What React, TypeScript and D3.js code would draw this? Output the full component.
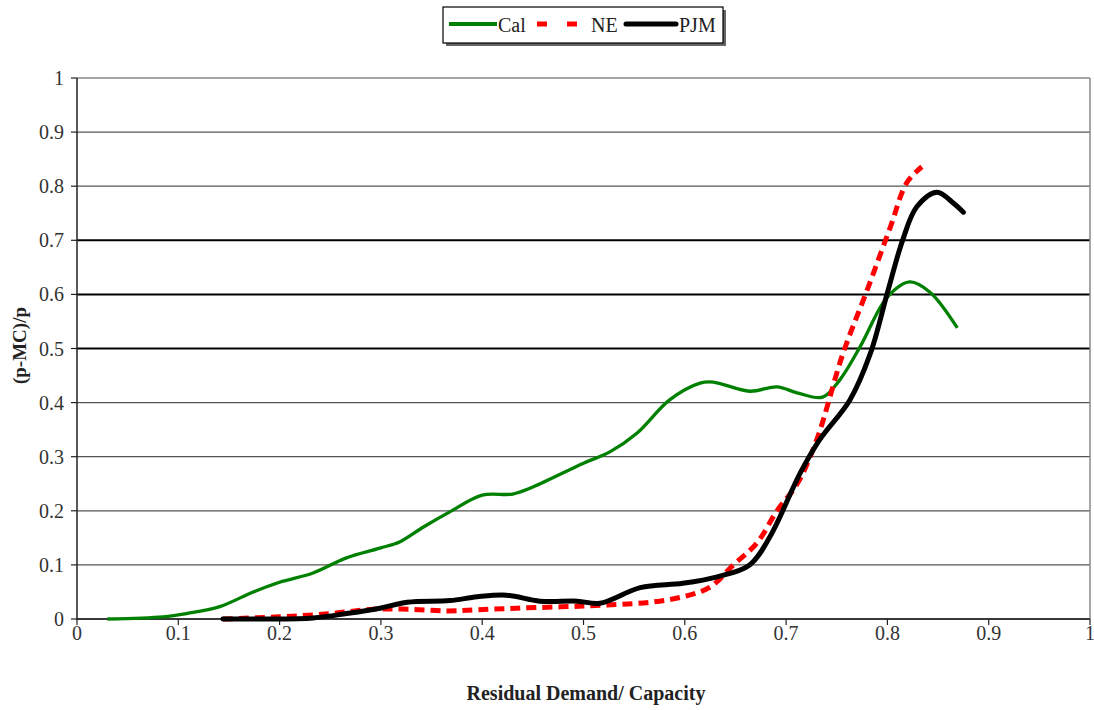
import React from "react";
import * as d3 from "d3";

const calX = [0.03,0.085,0.108,0.141,0.174,0.20,0.233,0.266,0.299,0.319,0.342,0.368,0.40,0.43,0.45,0.50,0.526,0.553,0.585,0.615,0.628,0.664,0.691,0.711,0.736,0.753,0.773,0.80,0.822,0.842,0.869];
const calY = [0,0.004,0.01,0.023,0.05,0.068,0.085,0.113,0.131,0.143,0.17,0.198,0.229,0.231,0.244,0.288,0.309,0.344,0.405,0.436,0.438,0.421,0.429,0.418,0.41,0.442,0.503,0.595,0.623,0.604,0.538];

const neX = [0.144,0.20,0.25,0.292,0.329,0.365,0.395,0.434,0.50,0.566,0.598,0.625,0.648,0.671,0.691,0.711,0.73,0.756,0.78,0.803,0.819,0.834];
const neY = [0,0.004,0.01,0.018,0.018,0.015,0.017,0.02,0.024,0.031,0.041,0.059,0.10,0.14,0.20,0.25,0.33,0.49,0.608,0.725,0.806,0.836];

const pjmX = [0.144,0.184,0.233,0.266,0.299,0.326,0.368,0.395,0.424,0.457,0.494,0.516,0.556,0.598,0.632,0.664,0.684,0.714,0.733,0.763,0.783,0.80,0.815,0.829,0.849,0.865,0.875];
const pjmY = [0,0,0.002,0.01,0.02,0.031,0.034,0.041,0.044,0.033,0.033,0.029,0.058,0.066,0.078,0.10,0.152,0.27,0.331,0.405,0.49,0.603,0.70,0.762,0.789,0.769,0.752];

const xTicks = [0,0.1,0.2,0.3,0.4,0.5,0.6,0.7,0.8,0.9,1];
const yTicks = [0,0.1,0.2,0.3,0.4,0.5,0.6,0.7,0.8,0.9,1];
const seriesNames = ["Cal", "NE", "PJM"];

export default function App() {
  const W = 1094, H = 710;
  const x = d3.scaleLinear().domain([0, 1]).range([77, 1090]);
  const y = d3.scaleLinear().domain([0, 1]).range([619, 78]);
  const line = d3.line<[number, number]>().x(d => x(d[0])).y(d => y(d[1])).curve(d3.curveCatmullRom.alpha(0.5));
  const zip = (a: number[], b: number[]) => a.map((v, i) => [v, b[i]] as [number, number]);
  const font = "'Liberation Serif', 'Times New Roman', serif";
  const dark = [0.5, 0.6, 0.7];
  return (
    <svg width={W} height={H} style={{ position: "absolute", left: 0, top: 0, background: "#fff" }} fontFamily={font}>
      {yTicks.map(t => (
        <line key={"g" + t} x1={x(0)} x2={x(1)} y1={y(t)} y2={y(t)}
          stroke={t === 1 ? "#888" : dark.includes(t) ? "#000" : "#555"}
          strokeWidth={dark.includes(t) ? 2 : 1.3} />
      ))}
      <line x1={x(1)} x2={x(1)} y1={y(1)} y2={y(0)} stroke="#888" strokeWidth={1.5} />
      <line x1={x(0)} x2={x(0)} y1={y(1)} y2={y(0) + 1} stroke="#222" strokeWidth={1.5} />
      <line x1={x(0)} x2={x(1)} y1={y(0)} y2={y(0)} stroke="#222" strokeWidth={1.5} />
      {yTicks.map(t => (
        <g key={"yt" + t}>
          <line x1={x(0) - 6} x2={x(0)} y1={y(t)} y2={y(t)} stroke="#222" strokeWidth={1.2} />
          <text x={x(0) - 13} y={y(t)} dy="0.35em" textAnchor="end" fontSize={20} fill="#333">{String(t)}</text>
        </g>
      ))}
      {xTicks.map(t => (
        <g key={"xt" + t}>
          <line x1={x(t)} x2={x(t)} y1={y(0)} y2={y(0) + 6} stroke="#222" strokeWidth={1.2} />
          <text x={x(t)} y={y(0) + 14} dy="0.35em" textAnchor="middle" fontSize={20} fill="#333">{String(t)}</text>
        </g>
      ))}
      <text transform={`translate(19,${y(0.5) - 3}) rotate(-90)`} textAnchor="middle" dy="0.35em" fontSize={19} fontWeight="bold" fill="#222">(p-MC)/p</text>
      <text x={586} y={693} textAnchor="middle" dy="0.35em" fontSize={20} fontWeight="bold" fill="#222">Residual Demand/ Capacity</text>

      <path d={line(zip(calX, calY)) || ""} fill="none" stroke="#008000" strokeWidth={3.3} />
      <path d={line(zip(neX, neY)) || ""} fill="none" stroke="#ff0000" strokeWidth={5} strokeDasharray="10,6" />
      <path d={line(zip(pjmX, pjmY)) || ""} fill="none" stroke="#000" strokeWidth={5} strokeLinecap="round" />

      <g>
        <rect x={446} y={10} width={280} height={36} fill="#666" />
        <rect x={443} y={7} width={280} height={36} fill="#fff" stroke="#000" strokeWidth={1.2} />
        <line x1={449} x2={497} y1={24} y2={24} stroke="#008000" strokeWidth={4} />
        <text x={498} y={25} dy="0.35em" fontSize={20} fill="#222">{seriesNames[0]}</text>
        <line x1={537} x2={547} y1={24} y2={24} stroke="#ff0000" strokeWidth={5} />
        <line x1={567} x2={577} y1={24} y2={24} stroke="#ff0000" strokeWidth={5} />
        <text x={591} y={25} dy="0.35em" fontSize={20} fill="#222">{seriesNames[1]}</text>
        <line x1={626} x2={676} y1={24} y2={24} stroke="#000" strokeWidth={5} strokeLinecap="round" />
        <text x={679} y={25} dy="0.35em" fontSize={20} fill="#222">{seriesNames[2]}</text>
      </g>
    </svg>
  );
}
